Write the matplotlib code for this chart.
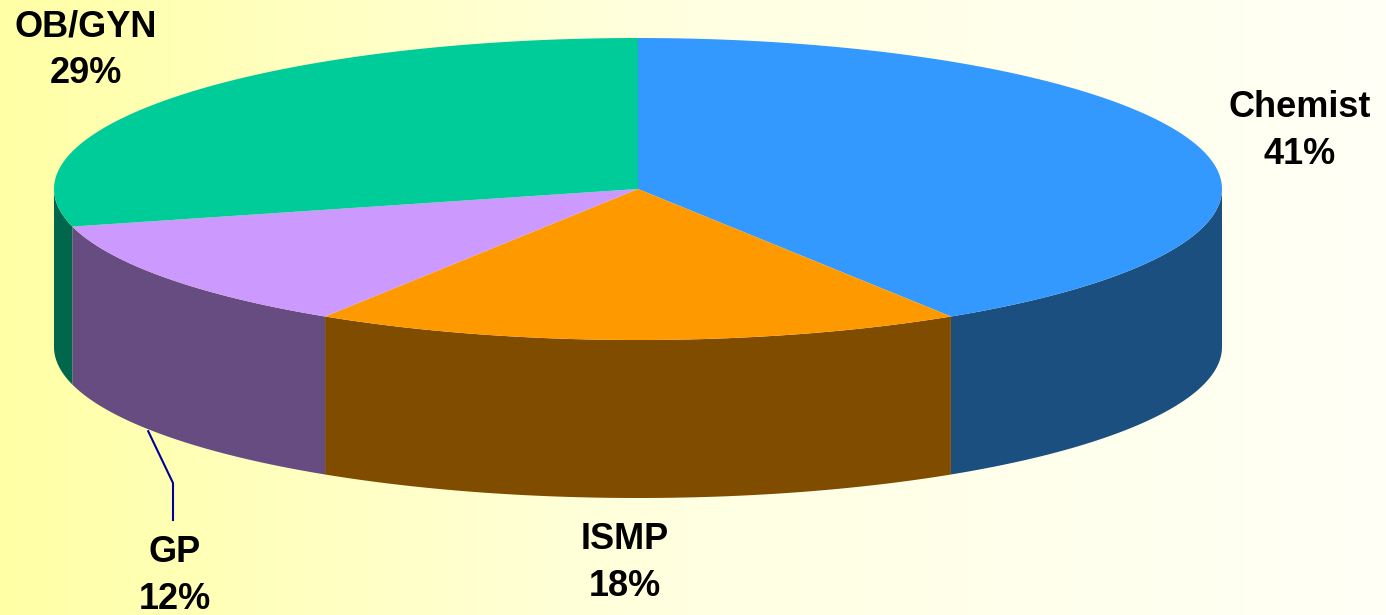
import numpy as np
import matplotlib.pyplot as plt
from matplotlib.colors import LinearSegmentedColormap

plt.rcParams['font.family'] = ['Liberation Sans', 'DejaVu Sans']

labels = ["Chemist", "ISMP", "GP", "OB/GYN"]
values = [41, 18, 12, 29]
top_colors = ["#3399FF", "#FF9900", "#CC99FF", "#00CC99"]
side_colors = ["#1A4F80", "#804C00", "#664C80", "#00664C"]

W, H = 1386, 615
cx, cy = 638, 189
rx, ry = 584, 151
depth = 158


def ellipse_pts(t0, t1, dy=0, n=200):
    t = np.radians(np.linspace(t0, t1, n))
    return cx + rx*np.cos(t), cy + dy + ry*np.sin(t)


fig = plt.figure(figsize=(W/100, H/100), dpi=100)
ax = fig.add_axes([0, 0, 1, 1])
ax.set_xlim(0, W)
ax.set_ylim(H, 0)
ax.axis('off')

# yellow to cream background
bg = LinearSegmentedColormap.from_list('bg', ["#FFFFA6", "#FFFFE2", "#FFFFF6"])
ax.imshow(np.linspace(0, 1, 256).reshape(1, -1), cmap=bg, aspect='auto',
          extent=[0, W, H, 0], zorder=0)

# slice angles, clockwise from 12 o'clock (y axis points down)
fracs = np.array(values)/sum(values)
starts = -90 + 360*np.concatenate([[0], np.cumsum(fracs)[:-1]])
ends = starts + 360*fracs

# front walls (visible for angles 0..180)
for s, e, c in zip(starts, ends, side_colors):
    for off in (0, 360, -360):
        a, b = max(s + off, 0), min(e + off, 180)
        if a < b:
            xt, yt = ellipse_pts(a, b)
            xb, yb = ellipse_pts(b, a, dy=depth)
            ax.fill(np.r_[xt, xb], np.r_[yt, yb], color=c, lw=0, zorder=2)

# tops
for s, e, c in zip(starts, ends, top_colors):
    xt, yt = ellipse_pts(s, e)
    ax.fill(np.r_[cx, xt], np.r_[cy, yt], color=c, lw=0, zorder=3)

font = dict(fontsize=26, fontweight='bold', ha='center', va='center',
            linespacing=1.42, zorder=5)
label_pos = {"Chemist": (1300, 131), "ISMP": (625, 563),
             "GP": (175, 576), "OB/GYN": (86, 50)}
for name, v in zip(labels, values):
    x, y = label_pos[name]
    ax.text(x, y, f"{name}\n{v}%", **font)

# leader line for GP, from the lower rim of the slice
i = labels.index("GP")
mid = np.radians((starts[i] + ends[i])/2 + 3)
x0, y0 = cx + rx*np.cos(mid), cy + depth + ry*np.sin(mid) + 2
ax.plot([x0, 173, 173], [y0, 483, 520], color="#000099", lw=1.5, zorder=4)

fig.savefig("out.png", dpi=100)
